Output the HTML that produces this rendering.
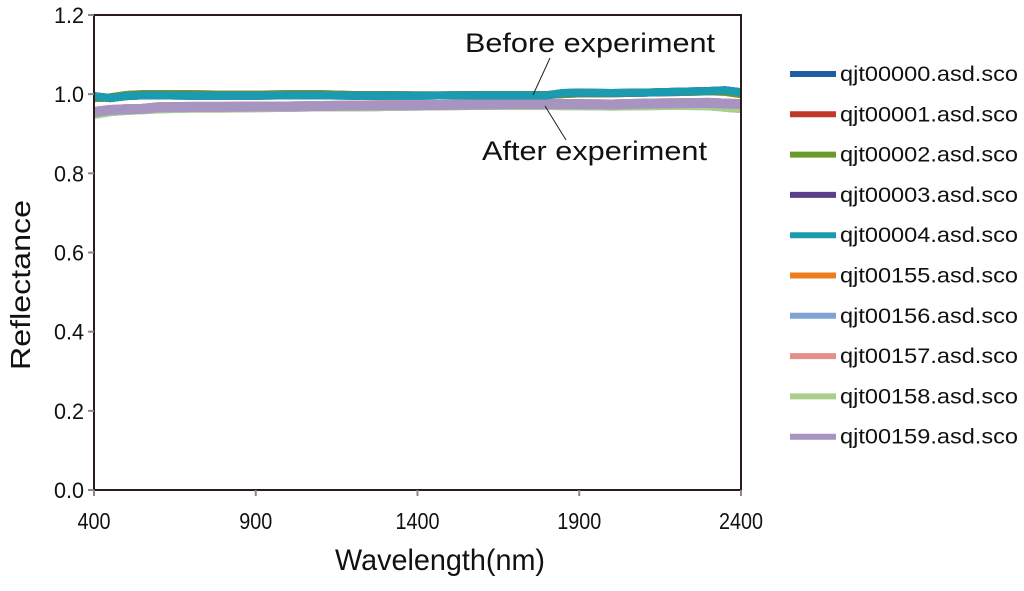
<!DOCTYPE html>
<html><head><meta charset="utf-8"><style>
body{margin:0;background:#fff;font-family:"Liberation Sans",sans-serif;}
svg text{font-family:"Liberation Sans",sans-serif;fill:#111;}
</style></head><body>
<svg id="chart" width="1024" height="586" viewBox="0 0 1024 586"></svg>
<script>
const wavelengths=[400,450,500,550,600,700,800,900,1000,1100,1200,1300,1400,1500,1600,1700,1800,1850,1900,2000,2100,2200,2300,2350,2400];
const before1=[0.995,0.99,0.995,0.997,0.997,0.996,0.996,0.996,0.997,0.997,0.996,0.996,0.996,0.997,0.997,0.997,0.997,1.003,1.004,1.003,1.004,1.006,1.008,1.01,1.005];
const before2=[0.99,0.992,0.998,1.0,1.0,1.0,0.999,0.999,1.0,1.0,0.998,0.998,0.997,0.997,0.998,0.998,0.998,1.0,1.002,1.002,1.004,1.005,1.007,1.006,1.0];
const after1=[0.955,0.96,0.962,0.963,0.967,0.968,0.968,0.969,0.969,0.970,0.971,0.972,0.972,0.973,0.974,0.975,0.975,0.975,0.975,0.974,0.976,0.977,0.978,0.976,0.975];
const after2=[0.95,0.957,0.96,0.962,0.964,0.966,0.966,0.967,0.968,0.969,0.969,0.970,0.971,0.972,0.973,0.973,0.973,0.972,0.972,0.971,0.972,0.973,0.972,0.968,0.965];
const seriesNames=["qjt00000.asd.sco","qjt00001.asd.sco","qjt00002.asd.sco","qjt00003.asd.sco","qjt00004.asd.sco","qjt00155.asd.sco","qjt00156.asd.sco","qjt00157.asd.sco","qjt00158.asd.sco","qjt00159.asd.sco"];
const seriesColors=["#1f5f9f","#c0392b","#6a9a2a","#5b3f8c","#1a9bb0","#ee7d1e","#7fa3d4","#e38f8a","#a9cf8a","#a794c0"];
const seriesData=[before1,before2,before2,before1,before1,after1,after2,after1,after2,after1];
const xTicks=[400,900,1400,1900,2400];
const yTicks=[0,0.2,0.4,0.6,0.8,1.0,1.2];
const L=94,R=741,T=15,B=490;
const xs=v=>L+(v-400)/2000*(R-L);
const ys=v=>B-v/1.2*(B-T);
const NS="http://www.w3.org/2000/svg";
const svg=document.getElementById('chart');
function mk(t,a,txt){const e=document.createElementNS(NS,t);for(const k in a)e.setAttribute(k,a[k]);if(txt!=null)e.textContent=txt;svg.appendChild(e);return e;}
const order=[5,6,7,8,9,0,1,2,3,4];
order.forEach(i=>{
  const pts=wavelengths.map((w,j)=>xs(w)+','+ys(seriesData[i][j])).join(' ');
  const p=mk('polyline',{points:pts,fill:'none',stroke:seriesColors[i],'stroke-width':i>=5?10:8,'stroke-linejoin':'round'});
  
  
});
const f=mk('rect',{x:L,y:T,width:R-L,height:B-T,fill:'none',stroke:'#2a1a1a','stroke-width':2});


yTicks.forEach(v=>{
  mk('line',{x1:L-6,x2:L,y1:ys(v),y2:ys(v),stroke:'#888','stroke-width':2});
  const t=mk('text',{x:L-10,y:ys(v)+8,'text-anchor':'end','font-size':22,textLength:30,lengthAdjust:'spacingAndGlyphs'},v.toFixed(1));
  
  
});
xTicks.forEach(v=>{
  mk('line',{x1:xs(v),x2:xs(v),y1:B,y2:B+6,stroke:'#888','stroke-width':2});
  const t=mk('text',{x:xs(v),y:529,'text-anchor':'middle','font-size':23,textLength:v>=1000?44:33,lengthAdjust:'spacingAndGlyphs'},v);
  
  
});
const xt=mk('text',{x:335,y:570,'font-size':30,textLength:210,lengthAdjust:'spacingAndGlyphs'},'Wavelength(nm)');


const yt=mk('text',{x:30,y:370,'font-size':28,textLength:170,lengthAdjust:'spacingAndGlyphs',transform:'rotate(-90 30 370)'},'Reflectance');


const a1=mk('text',{x:465,y:52,'font-size':27,textLength:250,lengthAdjust:'spacingAndGlyphs'},'Before experiment');


mk('line',{x1:550,y1:58,x2:533,y2:95,stroke:'#222','stroke-width':1});
const a2=mk('text',{x:482,y:160,'font-size':27,textLength:225,lengthAdjust:'spacingAndGlyphs'},'After experiment');


mk('line',{x1:566,y1:140,x2:545,y2:106,stroke:'#222','stroke-width':1});
seriesNames.forEach((n,i)=>{
  const y=74+i*40.3;
  const l=mk('line',{x1:790,x2:836,y1:y,y2:y,stroke:seriesColors[i],'stroke-width':6});
  
  
  const t=mk('text',{x:840,y:y+7,'font-size':21,textLength:178,lengthAdjust:'spacingAndGlyphs'},n);
  
  
});
</script>
</body></html>
